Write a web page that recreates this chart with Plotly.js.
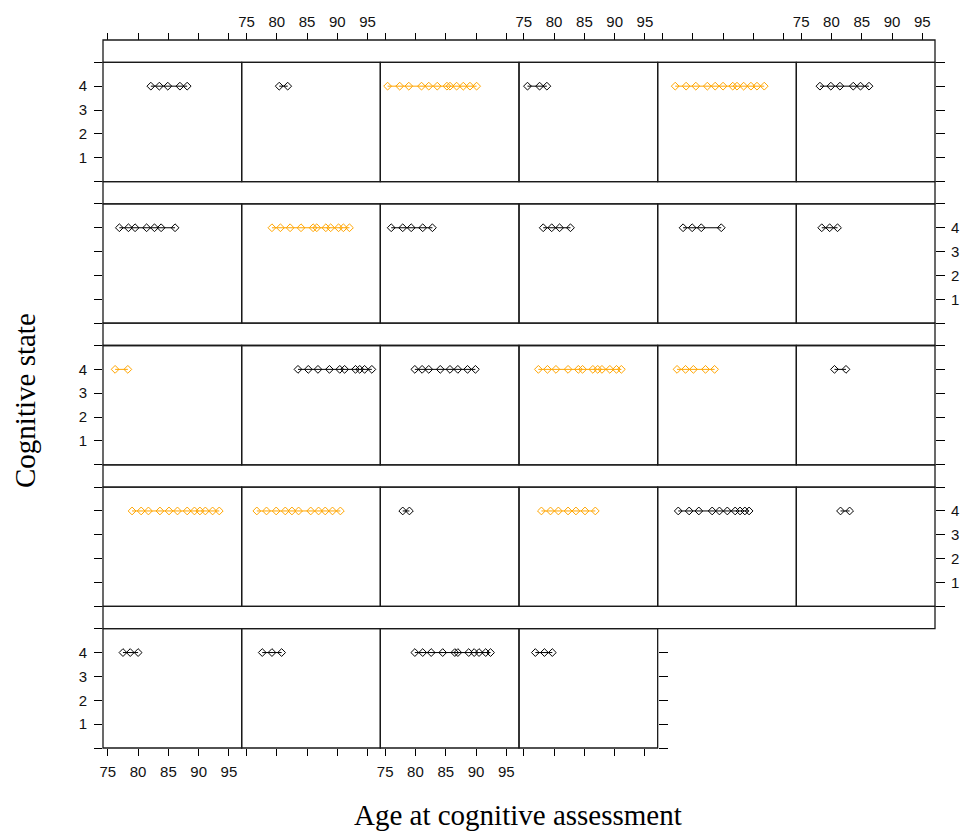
<!DOCTYPE html>
<html>
<head>
<meta charset="utf-8">
<script src="https://cdn.plot.ly/plotly-3.0.1.min.js"></script>
<style>html,body{margin:0;padding:0;background:#fff;}#chart{width:964px;height:832px;}</style>
</head>
<body>
<div id="chart"></div>
<script>
// ---- data ----
const row1Ages = [
  [82.1, 83.5, 84.9, 86.9, 88.1],
  [80.4, 81.8],
  [75.4, 77.4, 78.9, 81.0, 82.2, 83.6, 85.2, 85.7, 86.8, 87.9, 89.0, 90.1],
  [75.6, 77.6, 78.8],
  [77.1, 78.9, 80.5, 82.4, 83.7, 85.0, 86.6, 87.3, 88.4, 89.6, 90.6, 91.8],
  [78.1, 79.9, 81.4, 83.6, 84.8, 86.2]
];
const row2Ages = [
  [76.9, 78.4, 79.5, 81.4, 82.7, 83.8, 86.1],
  [79.2, 80.6, 82.2, 84.0, 86.0, 86.6, 88.1, 88.9, 90.2, 91.0, 92.0],
  [76.0, 77.9, 79.3, 81.2, 82.8],
  [78.2, 79.6, 80.9, 82.7],
  [78.4, 79.9, 81.4, 84.7],
  [78.4, 79.7, 81.0]
];
const row3Ages = [
  [76.2, 78.3],
  [83.5, 85.2, 86.8, 88.7, 90.4, 91.2, 93.0, 93.7, 94.5, 95.7],
  [79.9, 81.1, 82.2, 84.1, 85.7, 87.0, 88.6, 89.9],
  [77.4, 78.9, 80.3, 82.3, 84.0, 84.7, 86.4, 87.2, 87.9, 89.2, 90.3, 91.1],
  [77.4, 78.8, 80.1, 82.1, 83.6],
  [80.5, 82.4]
];
const row4Ages = [
  [79.0, 80.5, 81.7, 83.6, 85.1, 86.5, 88.1, 89.3, 90.2, 91.1, 92.3, 93.4],
  [76.7, 78.3, 79.9, 81.4, 82.5, 83.6, 85.6, 86.9, 88.0, 89.2, 90.5],
  [77.9, 79.0],
  [77.9, 79.4, 80.7, 82.3, 83.6, 85.1, 86.8],
  [77.6, 79.4, 81.0, 83.2, 84.4, 85.7, 87.0, 87.8, 88.6, 89.3],
  [81.5, 83.0]
];
const row5Ages = [
  [77.5, 78.7, 80.0],
  [77.6, 79.2, 80.8],
  [79.9, 81.2, 82.6, 84.5, 86.5, 87.0, 88.8, 89.7, 90.5, 91.6, 92.4],
  [76.9, 78.4, 79.7]
];
// cognitive state of each panel's points
const row1State = [4, 4, 4, 4, 4, 4];
const row2State = [4, 4, 4, 4, 4, 4];
const row3State = [4, 4, 4, 4, 4, 4];
const row4State = [4, 4, 4, 4, 4, 4];
const row5State = [4, 4, 4, 4];
// group of each panel (A = black, B = orange)
const row1Group = ["A", "A", "B", "A", "B", "A"];
const row2Group = ["A", "B", "A", "A", "A", "A"];
const row3Group = ["B", "A", "A", "B", "B", "A"];
const row4Group = ["B", "B", "A", "B", "A", "A"];
const row5Group = ["A", "A", "A", "A"];

const xTickVals = [75, 80, 85, 90, 95];
const xTickText = ["75", "80", "85", "90", "95"];
const yTickVals = [0, 1, 2, 3, 4, 5];
const yTickText = ["", "1", "2", "3", "4", ""];
const xTitle = "Age at cognitive assessment";
const yTitle = "Cognitive state";

// ---- layout / style ----
const W = 964, H = 832;
const groupColor = {A: "#000000", B: "#FFA500"};
const colEdges = [103, 241.67, 380.33, 519, 657.67, 796.33, 935];
const rowTop0 = 40, rowH = 141.6, stripH = 22.3;
const xRange = [74.2, 97.1], yRange = [0, 5];
const tickFont = {family: "Liberation Sans, Arial, sans-serif", size: 15, color: "#111"};
const titleFont = {family: "Liberation Serif, Times New Roman, serif", size: 29, color: "#000"};

const rowsAges = [row1Ages, row2Ages, row3Ages, row4Ages, row5Ages];
const rowsState = [row1State, row2State, row3State, row4State, row5State];
const rowsGroup = [row1Group, row2Group, row3Group, row4Group, row5Group];

const traces = [];
const layout = {
  width: W, height: H,
  margin: {l: 0, r: 0, t: 0, b: 0},
  paper_bgcolor: "#fff", plot_bgcolor: "rgba(0,0,0,0)",
  showlegend: false,
  shapes: [], annotations: []
};
const px = v => v / W;
const py = v => 1 - v / H;
let k = 0;
const border = {color: "#1a1a1a", width: 1.3};

for (let r = 0; r < 5; r++) {
  const top = rowTop0 + r * rowH;
  const pTop = top + stripH, pBot = top + rowH;
  // strip spanning full width
  layout.shapes.push({type: "rect", xref: "paper", yref: "paper",
    x0: px(colEdges[0]), x1: px(colEdges[6]), y0: py(pTop), y1: py(top), line: border, fillcolor: "rgba(0,0,0,0)", layer: "above"});
  const ncol = rowsAges[r].length;
  for (let c = 0; c < ncol; c++) {
    k++;
    const xa = "xaxis" + (k === 1 ? "" : k), ya = "yaxis" + (k === 1 ? "" : k);
    const xid = "x" + (k === 1 ? "" : k), yid = "y" + (k === 1 ? "" : k);
    const ages = rowsAges[r][c];
    const st = rowsState[r][c];
    const col = groupColor[rowsGroup[r][c]];
    traces.push({
      x: ages, y: ages.map(() => st), xaxis: xid, yaxis: yid,
      type: "scatter", mode: "lines+markers", hoverinfo: "skip",
      line: {color: col, width: 1},
      marker: {symbol: "diamond-open", size: 6, color: col, line: {width: 1, color: col}},
      cliponaxis: false
    });
    const xax = {
      domain: [px(colEdges[c]), px(colEdges[c + 1])], range: xRange,
      showgrid: false, zeroline: false, showline: false, fixedrange: true,
      tickvals: xTickVals, ticktext: xTickText, tickfont: tickFont,
      ticks: "", showticklabels: false, anchor: yid
    };
    if (r === 0) {
      Object.assign(xax, {ticks: "outside", ticklen: 7, tickwidth: 1, tickcolor: "#000",
        side: "top", anchor: "free", position: py(top), showticklabels: (c % 2 === 1)});
    }
    if (r === 4) {
      Object.assign(xax, {ticks: "outside", ticklen: 7, tickwidth: 1, tickcolor: "#000",
        side: "bottom", showticklabels: (c % 2 === 0), ticklabelstandoff: 3});
    }
    const yax = {
      domain: [py(pBot), py(pTop)], range: yRange,
      showgrid: false, zeroline: false, showline: false, fixedrange: true,
      tickvals: yTickVals, ticktext: yTickText, tickfont: tickFont,
      ticks: "", showticklabels: false, anchor: xid
    };
    if (c === 0) {
      Object.assign(yax, {ticks: "outside", ticklen: 8, tickwidth: 1, tickcolor: "#000",
        side: "left", showticklabels: (r % 2 === 0), ticklabelstandoff: 4});
    } else if (c === ncol - 1) {
      Object.assign(yax, {ticks: "outside", ticklen: 9, tickwidth: 1, tickcolor: "#000",
        side: "right", showticklabels: (r % 2 === 1), ticklabelstandoff: 3});
    }
    layout[xa] = xax;
    layout[ya] = yax;
    layout.shapes.push({type: "rect", xref: "paper", yref: "paper",
      x0: px(colEdges[c]), x1: px(colEdges[c + 1]), y0: py(pBot), y1: py(pTop), line: border, fillcolor: "rgba(0,0,0,0)", layer: "above"});
  }
}

layout.annotations.push({text: xTitle, xref: "paper", yref: "paper", x: px(518), y: py(815),
  xanchor: "center", yanchor: "middle", showarrow: false, font: titleFont});
layout.annotations.push({text: yTitle, xref: "paper", yref: "paper", x: px(25), y: py(401),
  xanchor: "center", yanchor: "middle", showarrow: false, textangle: -90, font: titleFont});

Plotly.newPlot("chart", traces, layout, {staticPlot: true, displayModeBar: false});
</script>
</body>
</html>
